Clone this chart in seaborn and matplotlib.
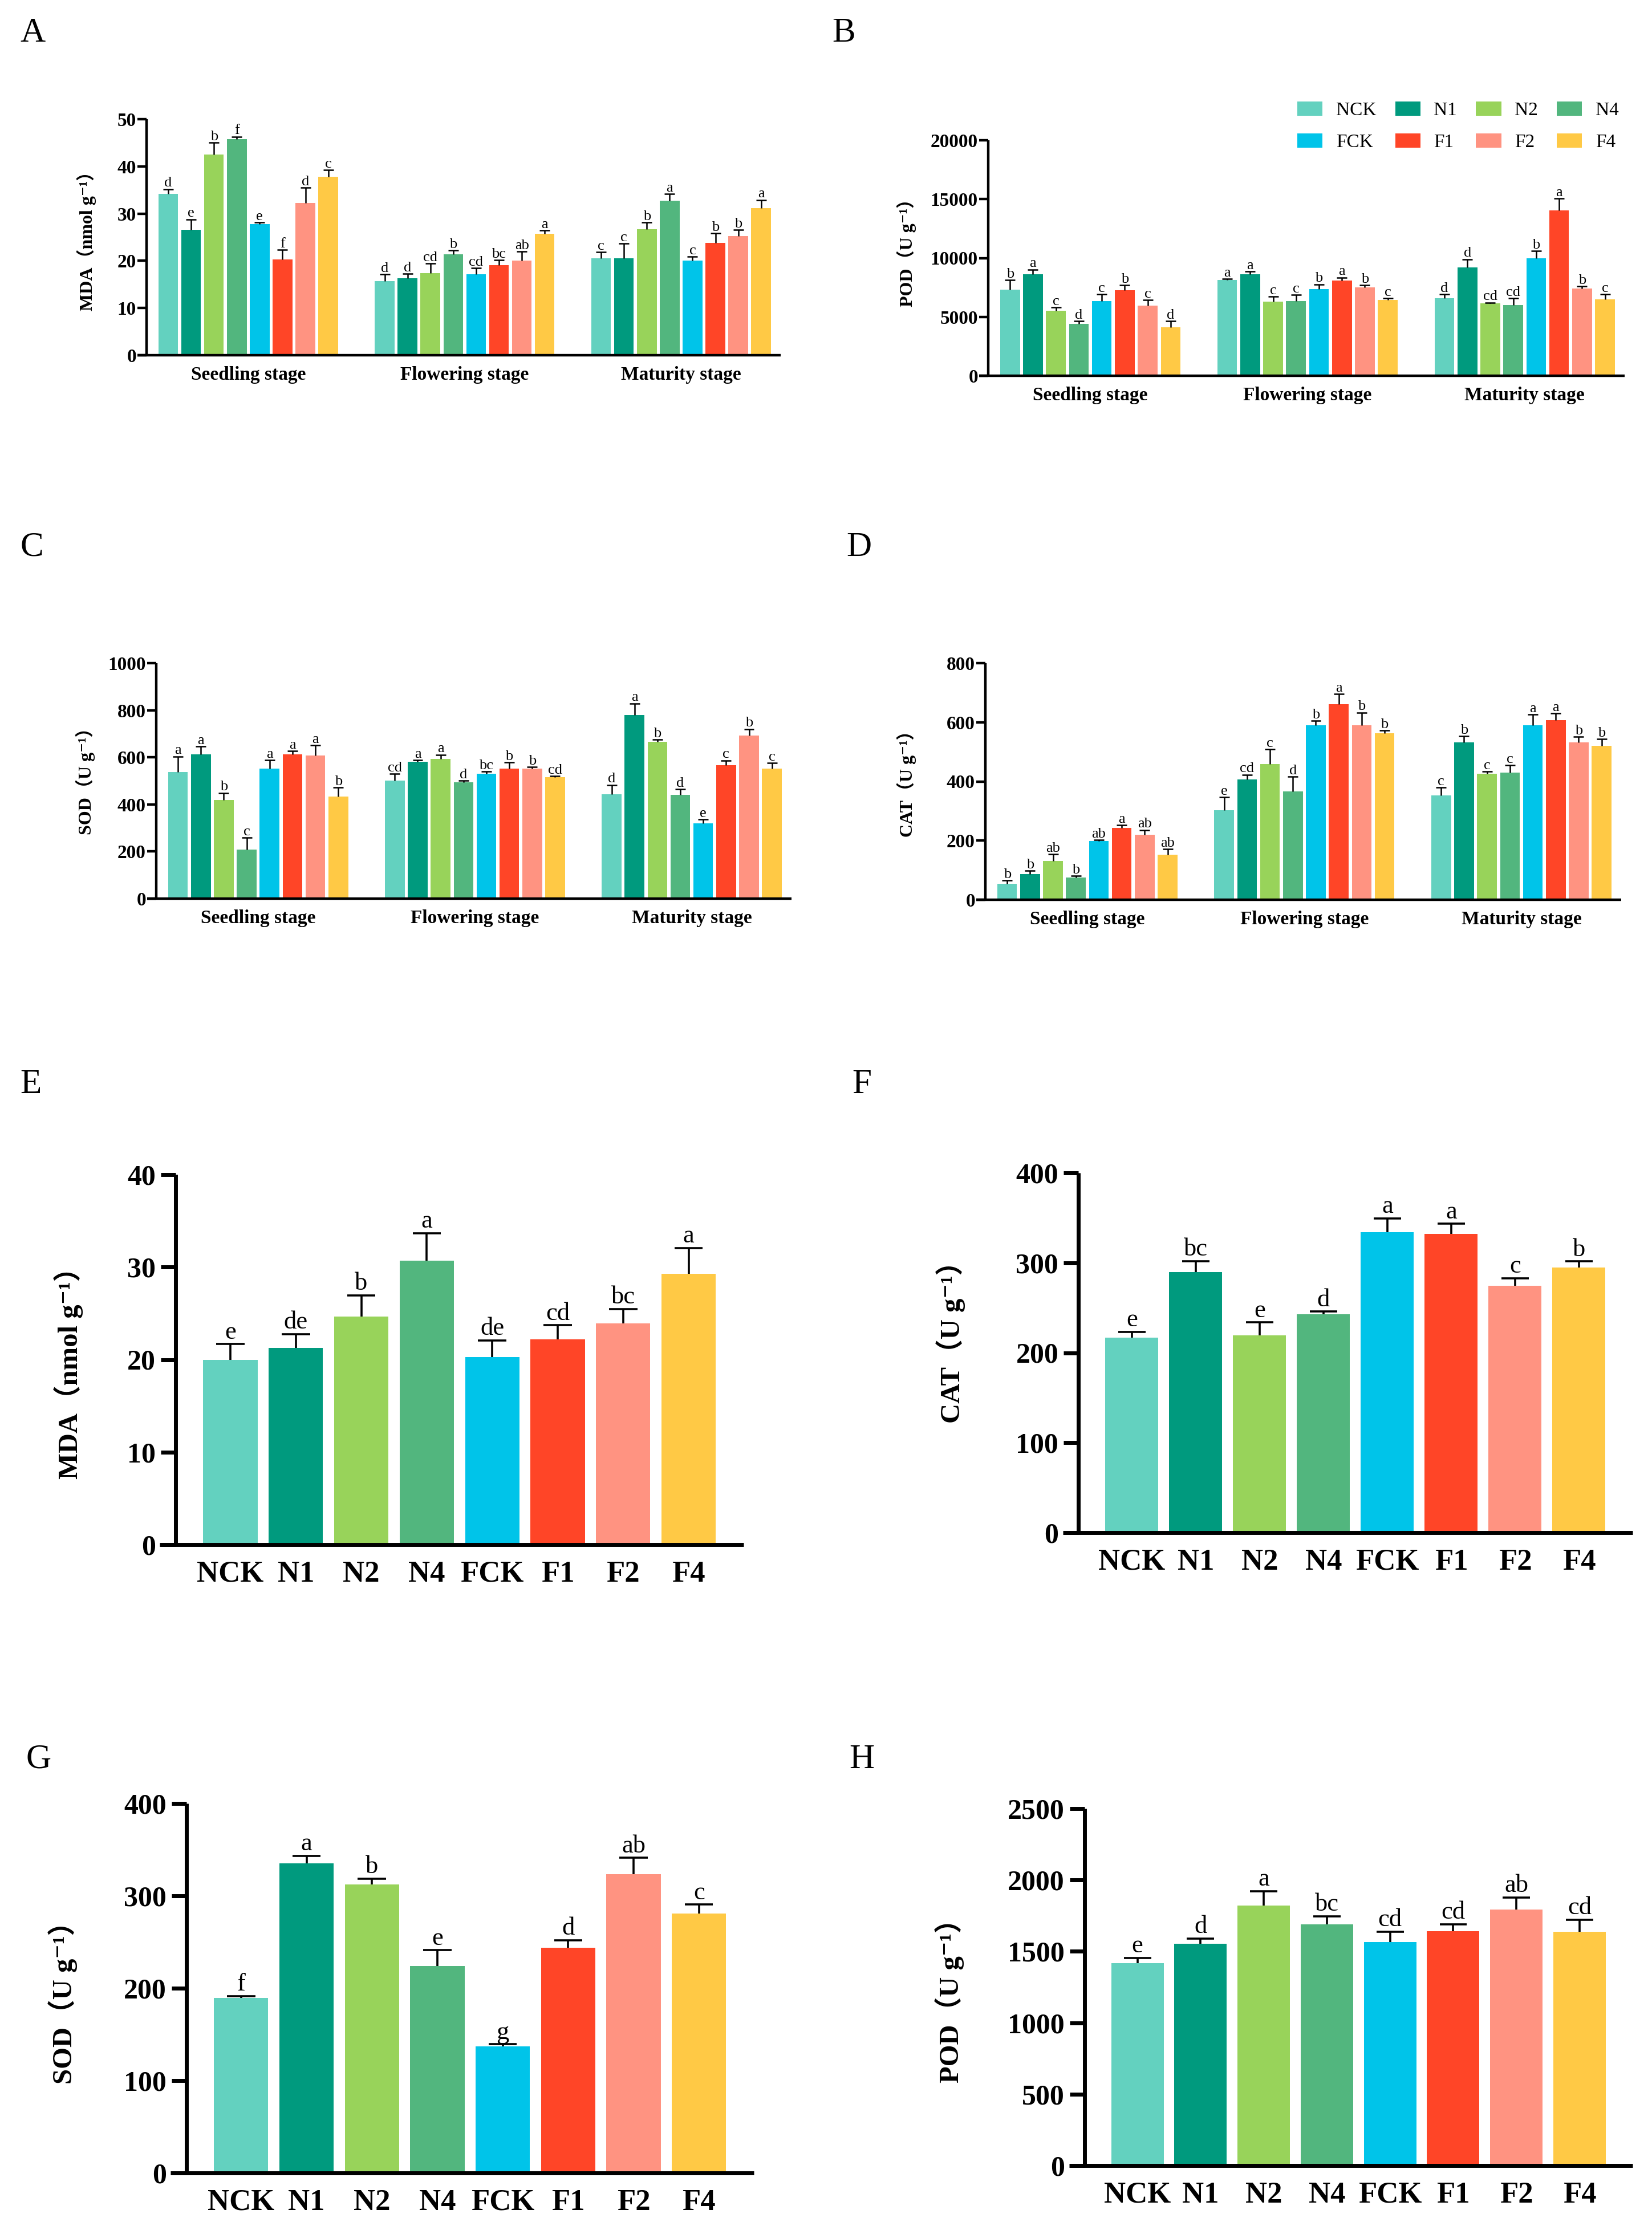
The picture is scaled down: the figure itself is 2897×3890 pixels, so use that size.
import numpy as np
import pandas as pd
import matplotlib
matplotlib.use("Agg")
import matplotlib.pyplot as plt
import seaborn as sns
from matplotlib.patches import Patch
from matplotlib.colors import to_rgb

plt.rcParams['font.family'] = ['Liberation Serif', 'Noto Sans CJK SC', 'DejaVu Serif']

treatments = ["NCK", "N1", "N2", "N4", "FCK", "F1", "F2", "F4"]
stages = ["Seedling stage", "Flowering stage", "Maturity stage"]
colors = ["#63D1BF", "#009A7E", "#98D35A", "#52B67E", "#00C4E9", "#FF4527", "#FF9381", "#FFC945"]

# ---- Panel A: MDA by stage ----
mda_stage = [[34.2, 26.6, 42.5, 45.8, 27.8, 20.3, 32.3, 37.8],
             [15.7, 16.3, 17.4, 21.4, 17.1, 19.1, 20.0, 25.7],
             [20.5, 20.5, 26.7, 32.7, 20.0, 23.8, 25.3, 31.1]]
mda_stage_err = [[1.0, 2.2, 2.5, 0.5, 0.3, 2.0, 3.2, 1.4],
                 [1.4, 1.0, 2.0, 0.8, 1.4, 1.1, 2.0, 0.7],
                 [1.4, 3.2, 1.4, 1.5, 0.9, 2.0, 1.3, 1.8]]
mda_stage_sig = [["d", "e", "b", "f", "e", "f", "d", "c"],
                 ["d", "d", "cd", "b", "cd", "bc", "ab", "a"],
                 ["c", "c", "b", "a", "c", "b", "b", "a"]]

# ---- Panel B: POD by stage ----
pod_stage = [[7320, 8610, 5540, 4400, 6340, 7270, 5960, 4140],
             [8120, 8610, 6290, 6360, 7370, 8070, 7490, 6430],
             [6600, 9220, 6150, 6010, 9960, 14060, 7390, 6500]]
pod_stage_err = [[800, 420, 260, 250, 580, 430, 470, 510],
                 [110, 230, 450, 520, 400, 280, 210, 140],
                 [320, 680, 70, 590, 660, 980, 210, 420]]
pod_stage_sig = [["b", "a", "c", "d", "c", "b", "c", "d"],
                 ["a", "a", "c", "c", "b", "a", "b", "c"],
                 ["d", "d", "cd", "cd", "b", "a", "b", "c"]]

# ---- Panel C: SOD by stage ----
sod_stage = [[538, 613, 419, 209, 553, 613, 607, 434],
             [501, 582, 593, 495, 530, 551, 551, 515],
             [444, 780, 665, 441, 319, 567, 692, 553]]
sod_stage_err = [[66, 33, 30, 49, 35, 13, 44, 37],
                 [29, 7, 18, 7, 10, 28, 8, 5],
                 [39, 49, 11, 23, 18, 20, 28, 24]]
sod_stage_sig = [["a", "a", "b", "c", "a", "a", "a", "b"],
                 ["cd", "a", "a", "d", "bc", "b", "b", "cd"],
                 ["d", "a", "b", "d", "e", "c", "b", "c"]]

# ---- Panel D: CAT by stage ----
cat_stage = [[54, 87, 131, 76, 199, 242, 219, 152],
             [303, 406, 459, 367, 589, 662, 590, 562],
             [352, 532, 426, 430, 589, 608, 533, 521]]
cat_stage_err = [[12, 11, 23, 5, 4, 10, 17, 19],
                 [44, 17, 50, 50, 16, 33, 43, 10],
                 [28, 21, 7, 25, 38, 22, 18, 23]]
cat_stage_sig = [["b", "b", "ab", "b", "ab", "a", "ab", "ab"],
                 ["e", "cd", "c", "d", "b", "a", "b", "b"],
                 ["c", "b", "c", "c", "a", "a", "b", "b"]]

# ---- Panels E-H: means over treatments ----
mda_mean = [19.98, 21.26, 24.63, 30.68, 20.28, 22.21, 23.91, 29.28]
mda_err = [1.7, 1.5, 2.3, 3.0, 1.8, 1.5, 1.55, 2.8]
mda_sig = ["e", "de", "b", "a", "de", "cd", "bc", "a"]

cat_mean = [216.5, 290.0, 219.6, 243.0, 333.9, 332.0, 274.4, 295.0]
cat_err = [6.6, 11.7, 14.0, 2.7, 15.5, 11.3, 8.6, 6.6]
cat_sig = ["e", "bc", "e", "d", "a", "a", "c", "b"]

sod_mean = [189.8, 335.1, 312.5, 224.2, 137.0, 243.9, 323.6, 280.9]
sod_err = [1.8, 8.2, 6.1, 16.9, 2.2, 7.9, 17.6, 9.7]
sod_sig = ["f", "a", "b", "e", "g", "d", "ab", "c"]

pod_mean = [1416, 1555, 1822, 1688, 1567, 1641, 1794, 1639]
pod_err = [37, 35, 100, 58, 70, 49, 84, 83]
pod_sig = ["e", "d", "a", "bc", "cd", "cd", "ab", "cd"]

W, H = 2897, 3890
fig = plt.figure(figsize=(W / 100, H / 100), dpi=100)


def rect(x0, x1, ytop, ybot):
    return [x0 / W, 1 - ybot / H, (x1 - x0) / W, (ybot - ytop) / H]


rgb_list = [np.array(to_rgb(c)) for c in colors]


def color_index(bar):
    fc = np.array(bar.get_facecolor()[:3])
    return int(np.argmin([np.sum((fc - c) ** 2) for c in rgb_list]))


def style(ax, ymax, ystep, big, xlabels):
    lw = 5.0 if big else 3.2
    ax.set_ylim(0, ymax)
    ticks = np.arange(0, ymax + 1e-9, ystep)
    ax.set_yticks(ticks, labels=[str(int(t)) for t in ticks], fontweight='bold',
                  fontsize=36 if big else 24)
    ax.set_xticks(range(len(xlabels)), labels=xlabels, fontweight='bold',
                  fontsize=38 if big else 24)
    for s in ['top', 'right']:
        ax.spines[s].set_visible(False)
    for s in ['left', 'bottom']:
        ax.spines[s].set_linewidth(lw)
        ax.spines[s].set_capstyle('butt')
    ax.tick_params(axis='y', length=19 if big else 11.5, width=lw, pad=6 if big else 1.5)
    ax.tick_params(axis='x', length=0, pad=20 if big else 14)
    ax.set_xlabel('')
    ax.set_ylabel('')
    ax.set_facecolor('none')


def stage_panel(r, means, errs, sigs, ymax, ystep):
    ax = fig.add_axes(r)
    df = pd.DataFrame({'stage': np.repeat(stages, len(treatments)),
                       'treatment': treatments * len(stages),
                       'value': np.ravel(means)})
    sns.barplot(data=df, x='stage', y='value', hue='treatment', order=stages,
                hue_order=treatments, palette=colors, saturation=1, width=0.845,
                gap=0.14, errorbar=None, legend=False, linewidth=0, ax=ax)
    for cont in ax.containers:
        for bar in cont:
            i = color_index(bar)
            xc = bar.get_x() + bar.get_width() / 2
            j = int(round(xc))
            top = bar.get_height()
            e = errs[j][i]
            ax.vlines(xc, top, top + e, color='black', lw=1.8, zorder=3)
            ax.hlines(top + e, xc - bar.get_width() * 0.26, xc + bar.get_width() * 0.26,
                      color='black', lw=1.8, zorder=3)
            ax.annotate(sigs[j][i], (xc, top + e), xytext=(0, 3), textcoords='offset points',
                        ha='center', va='baseline', fontsize=19, annotation_clip=False)
    ax.set_xlim(-0.512, 2.46)
    ax.spines['left'].set_position(('data', -0.47))
    style(ax, ymax, ystep, False, stages)
    return ax


def treat_panel(r, means, errs, sigs, ymax, ystep):
    ax = fig.add_axes(r)
    df = pd.DataFrame({'treatment': treatments, 'value': means})
    sns.barplot(data=df, x='treatment', y='value', hue='treatment', order=treatments,
                hue_order=treatments, palette=colors, saturation=1, width=0.83,
                errorbar=None, legend=False, linewidth=0, ax=ax)
    for cont in ax.containers:
        for bar in cont:
            i = color_index(bar)
            xc = bar.get_x() + bar.get_width() / 2
            top = bar.get_height()
            e = errs[i]
            ax.vlines(xc, top, top + e, color='black', lw=2.6, zorder=3)
            ax.hlines(top + e, xc - bar.get_width() * 0.26, xc + bar.get_width() * 0.26,
                      color='black', lw=2.6, zorder=3)
            ax.annotate(sigs[i], (xc, top + e), xytext=(0, 7), textcoords='offset points',
                        ha='center', va='baseline', fontsize=32, annotation_clip=False)
    ax.set_xlim(-1.08, 7.84)
    ax.spines['left'].set_position(('data', -0.84))
    style(ax, ymax, ystep, True, treatments)
    return ax


stage_panel(rect(241, 1369, 209, 623), mda_stage, mda_stage_err, mda_stage_sig, 50, 10)
stage_panel(rect(1717, 2849, 246, 659), pod_stage, pod_stage_err, pod_stage_sig, 20000, 5000)
stage_panel(rect(258, 1388, 1163, 1576), sod_stage, sod_stage_err, sod_stage_sig, 1000, 200)
stage_panel(rect(1712, 2843, 1163, 1578), cat_stage, cat_stage_err, cat_stage_sig, 800, 200)

treat_panel(rect(280, 1304, 2060, 2709), mda_mean, mda_err, mda_sig, 40, 10)
treat_panel(rect(1864, 2863, 2057, 2688), cat_mean, cat_err, cat_sig, 400, 100)
treat_panel(rect(299, 1322, 3163, 3811), sod_mean, sod_err, sod_sig, 400, 100)
treat_panel(rect(1875, 2863, 3172, 3798), pod_mean, pod_err, pod_sig, 2500, 500)

# y-axis labels
ylabels = [("MDA（nmol g⁻¹）", 152, 415, 23), ("POD（U g⁻¹）", 1590, 435, 23),
           ("SOD（U g⁻¹）", 150, 1362, 23), ("CAT（U g⁻¹）", 1590, 1367, 23),
           ("MDA（nmol g⁻¹）", 120, 2396, 35), ("CAT（U g⁻¹）", 1667, 2342, 35),
           ("SOD（U g⁻¹）", 110, 3500, 35), ("POD（U g⁻¹）", 1665, 3497, 35)]
for txt, x, y, fs in ylabels:
    fig.text(x / W, 1 - y / H, txt, rotation=90, ha='center', va='center',
             fontsize=fs, fontweight='bold')

# panel letters
letters = [("A", 58, 58), ("B", 1480, 58), ("C", 56, 960), ("D", 1506, 960),
           ("E", 54, 1902), ("F", 1511, 1902), ("G", 68, 3086), ("H", 1511, 3086)]
for t, x, y in letters:
    fig.text(x / W, 1 - y / H, t, ha='center', va='center', fontsize=44)

# legend (row-wise order: NCK N1 N2 N4 / FCK F1 F2 F4)
handles = [Patch(facecolor=c, edgecolor='none', label=t) for t, c in zip(treatments, colors)]
order = [0, 4, 1, 5, 2, 6, 3, 7]
fig.legend(handles=[handles[k] for k in order], loc='upper left',
           bbox_to_anchor=(2275 / W, 1 - 178 / H), ncol=4, frameon=False, fontsize=24,
           handlelength=1.33, handleheight=0.76, handletextpad=0.7, columnspacing=1.0,
           labelspacing=0.75, borderpad=0, borderaxespad=0)

fig.savefig("out.png", dpi=100, facecolor='white')
